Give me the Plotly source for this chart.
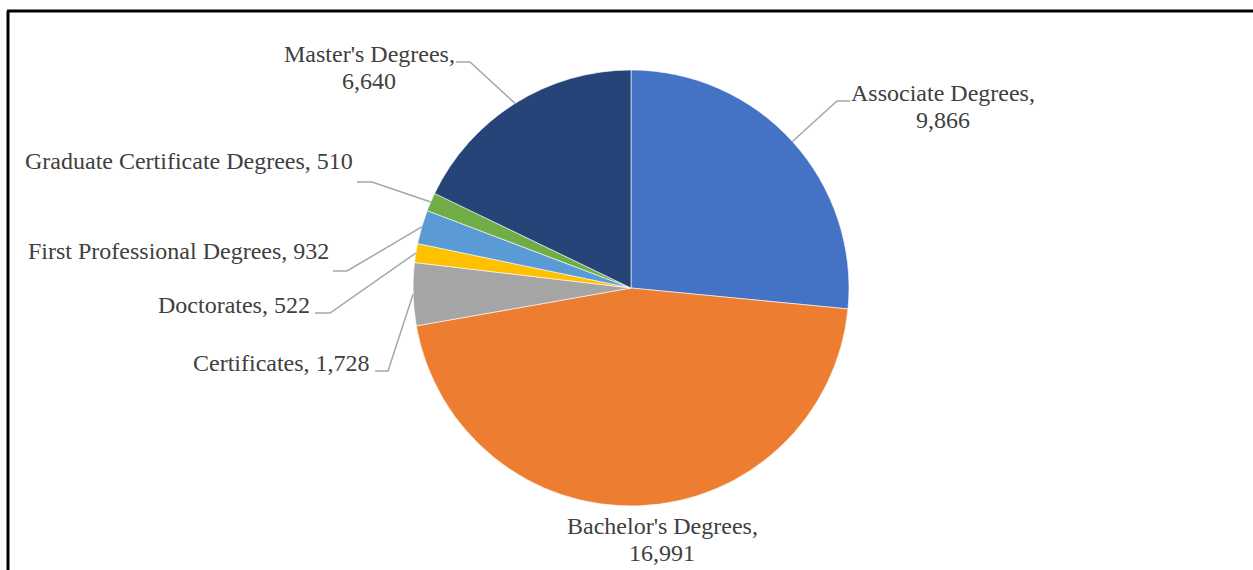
import math
import plotly.graph_objects as go

W, H = 1253, 570

# data
labels = ["Associate Degrees", "Bachelor's Degrees", "Certificates", "Doctorates",
          "First Professional Degrees", "Graduate Certificate Degrees", "Master's Degrees"]
values = [9866, 16991, 1728, 522, 932, 510, 6640]
colors = ['#4472C4', '#ED7D31', '#A5A5A5', '#FFC000', '#5B9BD5', '#70AD47', '#264478']

# label layout (pixels from top-left): text anchor, wrapping, leader elbow
label_pos = {
    "Associate Degrees":            dict(x=943, y=93,  xanchor='center', wrap=True,  elbow=[(850, 101), (837, 101)]),
    "Bachelor's Degrees":           dict(x=662, y=526, xanchor='center', wrap=True,  elbow=None),
    "Certificates":                 dict(x=372, y=363, xanchor='right',  wrap=False, elbow=[(375, 371), (388, 371)]),
    "Doctorates":                   dict(x=312, y=305, xanchor='right',  wrap=False, elbow=[(315, 313), (330, 313)]),
    "First Professional Degrees":   dict(x=331, y=251, xanchor='right',  wrap=False, elbow=[(333, 271), (347, 271)]),
    "Graduate Certificate Degrees": dict(x=355, y=161, xanchor='right',  wrap=False, elbow=[(357, 182), (372, 182)]),
    "Master's Degrees":             dict(x=369, y=54,  xanchor='center', wrap=True,  elbow=[(456, 62), (470, 62)]),
}
line_gap = 27

cx, cy, r = 631, 288, 218
font = 'Times New Roman'
txt_color = '#404040'

def px(x):
    return x / W

def py(y):
    return 1 - y / H

fig = go.Figure(go.Pie(
    labels=labels,
    values=values,
    sort=False,
    direction='clockwise',
    rotation=0,
    marker=dict(colors=colors, line=dict(color='white', width=0.6)),
    textinfo='none',
    hoverinfo='label+value',
    showlegend=False,
    domain=dict(x=[px(cx - r), px(cx + r)], y=[py(cy + r), py(cy - r)]),
))

total = sum(values)
cum = 0
annotations = []
shapes = []
for lab, val in zip(labels, values):
    mid = (cum + val / 2) / total * 2 * math.pi
    cum += val
    ex = cx + r * math.sin(mid)
    ey = cy - r * math.cos(mid)
    p = label_pos[lab]
    if p['wrap']:
        lines = [f"{lab},", f"{val:,}"]
    else:
        lines = [f"{lab}, {val:,}"]
    for i, t in enumerate(lines):
        annotations.append(dict(
            x=px(p['x']), y=py(p['y'] + i * line_gap), xref='paper', yref='paper',
            text=t, showarrow=False,
            xanchor=p['xanchor'], yanchor='middle', align='center',
            font=dict(family=font, size=24, color=txt_color)))
    if p['elbow']:
        pts = p['elbow'] + [(ex, ey)]
        path = "M " + " L ".join(f"{px(x)},{py(y)}" for x, y in pts)
        shapes.append(dict(type='path', path=path, xref='paper', yref='paper',
                           line=dict(color='#A6A6A6', width=1.5)))

# frame of the chart box
shapes.append(dict(type='line', xref='paper', yref='paper', x0=px(7), x1=1,
                   y0=py(11), y1=py(11), line=dict(color='black', width=3)))
shapes.append(dict(type='line', xref='paper', yref='paper', x0=px(8), x1=px(8),
                   y0=py(11), y1=0, line=dict(color='black', width=3)))

fig.update_layout(
    width=W, height=H,
    margin=dict(l=0, r=0, t=0, b=0),
    paper_bgcolor='white',
    plot_bgcolor='white',
    annotations=annotations,
    shapes=shapes,
)

fig.write_html("out.html", config={'displayModeBar': False},
               post_script="document.body.style.margin='0';")
